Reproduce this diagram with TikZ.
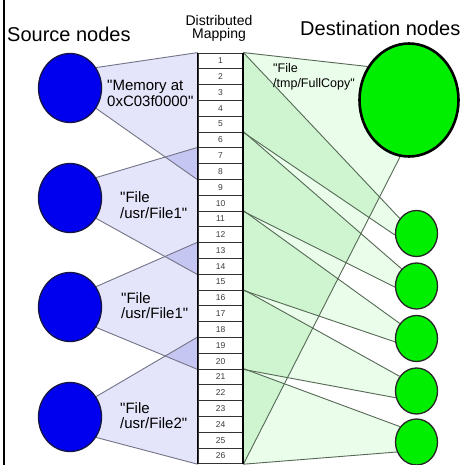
\documentclass[tikz,border=0pt]{standalone}
\usepackage{fontspec}
\setmainfont{Liberation Sans}
\usetikzlibrary{shapes.geometric}
\pgfdeclarelayer{background}
\pgfsetlayers{background,main}

\definecolor{srcblue}{RGB}{0,0,238}
\definecolor{srcedge}{RGB}{20,20,70}
\definecolor{dstgreen}{RGB}{0,238,0}
\definecolor{lavlight}{RGB}{228,228,250}
\definecolor{lavdark}{RGB}{198,198,242}
\definecolor{lavline}{RGB}{115,115,135}
\definecolor{mintlight}{RGB}{234,252,234}
\definecolor{mintdark}{RGB}{206,245,208}
\definecolor{mintline}{RGB}{85,105,85}
\definecolor{numgray}{RGB}{60,60,60}

\newcommand\q{\textquotedbl}

% fan regions: node side plus the block of rows it covers
\def\fanSa{(s1.38) -- (r1.north west) -- (r8.south west) -- (s1.-38) -- (s1.center) -- cycle}
\def\fanSb{(s2.38) -- (r7.north west) -- (r14.south west) -- (s2.-38) -- (s2.center) -- cycle}
\def\fanSc{(s3.38) -- (r13.north west) -- (r20.south west) -- (s3.-38) -- (s3.center) -- cycle}
\def\fanSd{(s4.38) -- (r19.north west) -- (r26.south west) -- (s4.-38) -- (s4.center) -- cycle}
\def\fanBig{(big.141) -- (r1.north east) -- (r26.south east) -- (big.261) -- (big.center) -- cycle}
\def\fanGa{(ga.138) -- (r1.north east) -- (r5.south east) -- (ga.184) -- (ga.center) -- cycle}
\def\fanGb{(gb.131) -- (r6.north east) -- (r10.south east) -- (gb.183) -- (gb.center) -- cycle}
\def\fanGc{(gc.138) -- (r11.north east) -- (r15.south east) -- (gc.189) -- (gc.center) -- cycle}
\def\fanGd{(gd.139) -- (r16.north east) -- (r20.south east) -- (gd.198) -- (gd.center) -- cycle}
\def\fanGe{(ge.137) -- (r21.north east) -- (r26.south east) -- (ge.207) -- (ge.center) -- cycle}

\begin{document}
\begin{tikzpicture}[x=1pt,y=-1pt,
  srcnode/.style={ellipse, draw=srcedge, line width=1.3pt, fill=srcblue,
    minimum width=63pt, minimum height=69pt, inner sep=0pt},
  dstbig/.style={ellipse, draw=black, line width=2.6pt, fill=dstgreen,
    minimum width=99pt, minimum height=113pt, inner sep=0pt},
  dstsmall/.style={ellipse, draw=black!85, line width=1.3pt, fill=dstgreen,
    minimum width=42pt, minimum height=46pt, inner sep=0pt},
  cell/.style={rectangle, draw=black!80, line width=0.8pt, fill=white,
    minimum width=45pt, minimum height=15.8pt, inner sep=0pt,
    font=\fontsize{8.5}{9}\selectfont, text=numgray},
  heading/.style={font=\fontsize{20}{22}\selectfont, inner sep=0pt},
  srclabel/.style={font=\fontsize{15}{15.5}\selectfont, align=left,
    inner sep=0pt, anchor=north west},
  lavedge/.style={draw=lavline, line width=0.9pt},
  mintedge/.style={draw=mintline, line width=0.9pt},
]
\useasboundingbox (0,0) rectangle (465,465);

% mapping table
\foreach \i in {1,...,26}
  \node[cell] (r\i) at (220.5,{53+15.8*(\i-0.5)}) {\i};
\draw[line width=1.6pt] (r1.north west) -- (r26.south west);
\draw[line width=2pt] (r1.north east) -- (r26.south east);

% source nodes
\node[srcnode] (s1) at (70,88) {};
\node[srcnode] (s2) at (70,198) {};
\node[srcnode] (s3) at (70,307) {};
\node[srcnode] (s4) at (70,417) {};

% destination nodes
\node[dstbig] (big) at (409,100) {};
\node[dstsmall] (ga) at (416.5,233.5) {};
\node[dstsmall] (gb) at (416.5,286) {};
\node[dstsmall] (gc) at (416.5,338.5) {};
\node[dstsmall] (gd) at (416.5,391) {};
\node[dstsmall] (ge) at (416.5,442) {};

\begin{pgfonlayer}{background}
  \fill[white] (0,0) rectangle (465,465);
  % source fans
  \fill[lavlight] \fanSa;
  \fill[lavlight] \fanSb;
  \fill[lavlight] \fanSc;
  \fill[lavlight] \fanSd;
  \begin{scope}\clip \fanSa; \fill[lavdark] \fanSb; \end{scope}
  \begin{scope}\clip \fanSb; \fill[lavdark] \fanSc; \end{scope}
  \begin{scope}\clip \fanSc; \fill[lavdark] \fanSd; \end{scope}
  % destination fans
  \fill[mintlight] \fanBig;
  \fill[mintlight] \fanGa;
  \fill[mintlight] \fanGb;
  \fill[mintlight] \fanGc;
  \fill[mintlight] \fanGd;
  \fill[mintlight] \fanGe;
  \begin{scope}\clip \fanBig;
    \fill[mintdark] \fanGa;
    \fill[mintdark] \fanGb;
    \fill[mintdark] \fanGc;
    \fill[mintdark] \fanGd;
    \fill[mintdark] \fanGe;
  \end{scope}
  % fan edges
  \draw[lavedge] (s1.38) -- (r1.north west);
  \draw[lavedge] (s1.-38) -- (r8.south west);
  \draw[lavedge] (s2.38) -- (r7.north west);
  \draw[lavedge] (s2.-38) -- (r14.south west);
  \draw[lavedge] (s3.38) -- (r13.north west);
  \draw[lavedge] (s3.-38) -- (r20.south west);
  \draw[lavedge] (s4.38) -- (r19.north west);
  \draw[lavedge] (s4.-38) -- (r26.south west);
  \draw[mintedge] (big.141) -- (r1.north east);
  \draw[mintedge] (big.261) -- (r26.south east);
  \draw[mintedge] (ga.138) -- (r1.north east);
  \draw[mintedge] (ga.184) -- (r5.south east);
  \draw[mintedge] (gb.131) -- (r6.north east);
  \draw[mintedge] (gb.183) -- (r10.south east);
  \draw[mintedge] (gc.138) -- (r11.north east);
  \draw[mintedge] (gc.189) -- (r15.south east);
  \draw[mintedge] (gd.139) -- (r16.north east);
  \draw[mintedge] (gd.198) -- (r20.south east);
  \draw[mintedge] (ge.137) -- (r21.north east);
  \draw[mintedge] (ge.207) -- (r26.south east);
\end{pgfonlayer}

% frame line on the left
\draw[line width=2.5pt] (4,0) -- (4,465);

% titles
\node[heading, anchor=base west] (srctitle) at (7,42) {Source nodes};
\node[heading, anchor=base west] (dsttitle) at (300,36) {Destination nodes};
\node[font=\fontsize{14}{12.5}\selectfont, align=center, inner sep=0pt]
  (maptitle) at (219,28.6) {Distributed\\Mapping};

% labels
\node[srclabel] (l1) at (107,80) {\q Memory at\\0xC03f0000\q};
\node[srclabel] (l2) at (120,191.5) {\q File\\/usr/File1\q};
\node[srclabel] (l3) at (121,292) {\q File\\/usr/File1\q};
\node[srclabel] (l4) at (120,402) {\q File\\/usr/File2\q};
\node[font=\fontsize{12.5}{15}\selectfont, align=left, inner sep=0pt,
  anchor=north west] (l5) at (273,63) {\q File\\/tmp/FullCopy\q};
\end{tikzpicture}
\end{document}
